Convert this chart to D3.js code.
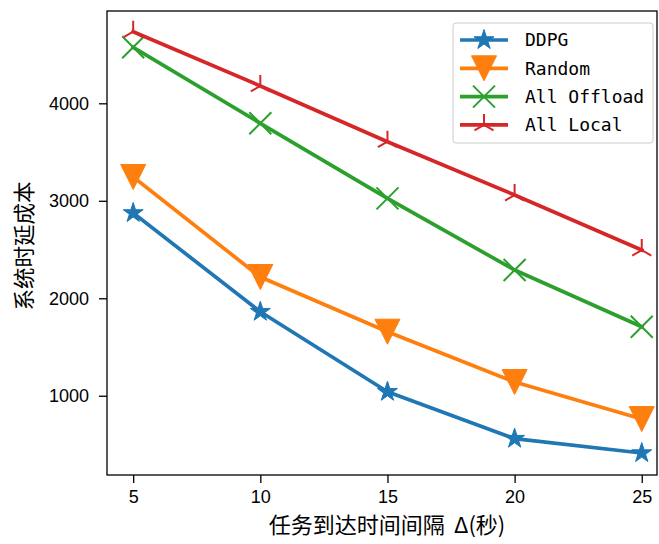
<!DOCTYPE html>
<html><head><meta charset="utf-8">
<script src="https://cdn.jsdelivr.net/npm/d3@7"></script>
<style>body{margin:0;background:#fff}svg{display:block}</style>
</head><body>
<svg id="c" width="659" height="544"></svg>
<script>
const xValues = [5, 10, 15, 20, 25];
const ddpg = [2875, 1862, 1041, 560, 412];
const random = [3244, 2218, 1657, 1141, 761];
const allOffload = [4575, 3795, 3025, 2290, 1708];
const allLocal = [4735, 4178, 3606, 3059, 2495];
const seriesNames = ["DDPG", "Random", "All Offload", "All Local"];
const seriesColors = ["#1f77b4", "#ff7f0e", "#2ca02c", "#d62728"];
const seriesMarkers = ["star", "triangleDown", "x", "triUp"];
const yTicks = [1000, 2000, 3000, 4000];
const xLabel = "任务到达时间间隔 Δ(秒)";
const yLabel = "系统时延成本";

const series = [ddpg, random, allOffload, allLocal].map((v, i) => ({
  name: seriesNames[i], values: v, color: seriesColors[i], marker: seriesMarkers[i]
}));

const svg = d3.select("#c");
const L = 107, R = 657, T = 11, B = 475;
const x = d3.scaleLinear().domain([3.97, 25.6]).range([L, R]);
const y = d3.scaleLinear().domain([187, 4947]).range([B, T]);
const font = "'Noto Sans CJK SC', 'DejaVu Sans', sans-serif";
const tickFont = "'Liberation Sans', Arial, sans-serif";

function markerPath(type) {
  const p = d3.path();
  if (type === "star") {
    const ro = 10.5, ri = ro * 0.381966;
    for (let k = 0; k < 10; k++) {
      const r = k % 2 ? ri : ro;
      const a = -Math.PI / 2 + k * Math.PI / 5;
      if (k === 0) p.moveTo(r * Math.cos(a), r * Math.sin(a)); else p.lineTo(r * Math.cos(a), r * Math.sin(a));
    }
    p.closePath();
  } else if (type === "triangleDown") {
    const s = 12.5;
    p.moveTo(-s, -s); p.lineTo(s, -s); p.lineTo(0, s); p.closePath();
  } else if (type === "x") {
    const s = 11;
    p.moveTo(-s, -s); p.lineTo(s, s); p.moveTo(-s, s); p.lineTo(s, -s);
  } else if (type === "triUp") {
    const s = 11;
    p.moveTo(0, 0); p.lineTo(0, -s);
    p.moveTo(0, 0); p.lineTo(-s * 0.866, s * 0.5);
    p.moveTo(0, 0); p.lineTo(s * 0.866, s * 0.5);
  }
  return p.toString();
}
function drawMarker(g, type, color) {
  const filled = type === "star" || type === "triangleDown";
  g.append("path").attr("d", markerPath(type))
    .attr("fill", filled ? color : "none")
    .attr("stroke", color)
    .attr("stroke-width", filled ? 1 : 2)
    .attr("stroke-linejoin", "miter");
}

// axes
const gx = svg.append("g").attr("transform", `translate(0,${B})`)
  .call(d3.axisBottom(x).tickValues(xValues).tickSize(8).tickPadding(7).tickFormat(d3.format("d")));
const gy = svg.append("g").attr("transform", `translate(${L},0)`)
  .call(d3.axisLeft(y).tickValues(yTicks).tickSize(8).tickPadding(10).tickFormat(d3.format("d")));
[gx, gy].forEach(g => {
  g.select(".domain").remove();
  g.selectAll(".tick line").attr("stroke", "#000").attr("stroke-width", 1.3);
  g.selectAll(".tick text").attr("fill", "#000").style("font-family", tickFont).style("font-size", "18px");
});

// lines & markers
const line = d3.line().x((d, i) => x(xValues[i])).y(d => y(d));
series.forEach(s => {
  svg.append("path").datum(s.values).attr("d", line)
    .attr("fill", "none").attr("stroke", s.color).attr("stroke-width", 3.7)
    .attr("stroke-linejoin", "round").attr("stroke-linecap", "square");
  s.values.forEach((v, i) => {
    const g = svg.append("g").attr("transform", `translate(${x(xValues[i])},${y(v)})`);
    drawMarker(g, s.marker, s.color);
  });
});

// frame
svg.append("rect").attr("x", L).attr("y", T).attr("width", R - L).attr("height", B - T)
  .attr("fill", "none").attr("stroke", "#000").attr("stroke-width", 1.3);

// labels
svg.append("text").attr("x", (L + R) / 2 + 5).attr("y", 533).attr("text-anchor", "middle")
  .style("font-family", font).style("font-size", "22px").style("white-space", "pre")
  .text(xLabel.replace(" ", "\u00a0\u2009"));
svg.append("text").attr("transform", `translate(32,${(T + B) / 2 + 3}) rotate(-90)`)
  .attr("text-anchor", "middle").style("font-family", font).style("font-size", "21.5px").text(yLabel);

// legend
const lg = svg.append("g");
lg.append("rect").attr("x", 453).attr("y", 23).attr("width", 200).attr("height", 120).attr("rx", 3)
  .attr("fill", "#fff").attr("fill-opacity", 0.8).attr("stroke", "#ccc").attr("stroke-width", 1);
series.forEach((s, i) => {
  const yy = 40 + i * 28.3;
  lg.append("line").attr("x1", 460).attr("x2", 508).attr("y1", yy).attr("y2", yy)
    .attr("stroke", s.color).attr("stroke-width", 3.7);
  const g = lg.append("g").attr("transform", `translate(484,${yy})`);
  drawMarker(g, s.marker, s.color);
  lg.append("text").attr("x", 525).attr("y", yy).attr("dy", "0.36em")
    .style("font-family", "'DejaVu Sans Mono', monospace").style("font-size", "18px").text(s.name);
});
</script>
</body></html>
